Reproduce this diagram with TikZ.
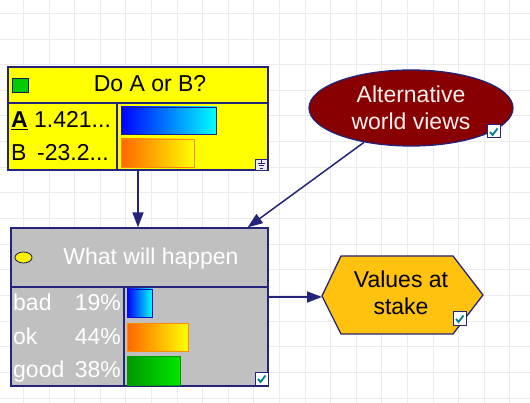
\documentclass[tikz,border=0pt]{standalone}
\usepackage{fontspec}
\setmainfont{Liberation Sans}
\usetikzlibrary{arrows.meta,shapes.geometric}
\definecolor{navy}{HTML}{24247A}
\definecolor{decyellow}{HTML}{FFFF00}
\definecolor{chgray}{HTML}{C0C0C0}
\definecolor{darkred}{HTML}{880000}
\definecolor{hexgold}{HTML}{FFC20E}
\definecolor{gridc}{HTML}{ECECF0}
\definecolor{chkteal}{HTML}{00808A}
\tikzset{
  gridline/.style={draw=gridc, line width=0.8pt},
  box/.style={draw=navy, line width=1.3pt, inner sep=0pt},
  boxline/.style={draw=navy, line width=1.3pt},
  txt/.style={inner sep=0pt, font=\fontsize{23}{27.5}\selectfont},
  wtxt/.style={txt, text=white},
  arr/.style={draw=navy, line width=1.5pt, -{Triangle[length=15pt,width=11pt]}},
  barblue/.style={draw=navy!80!blue, line width=0.8pt, left color=blue, right color=cyan},
  barorange/.style={draw=orange!90!yellow, line width=0.8pt, left color=orange!80!red, right color=yellow},
  bargreen/.style={draw=green!60!black, line width=0.8pt, left color=green!60!black, right color=green!90!black},
  chk/.pic={
    \draw[navy, fill=white, line width=1pt] (0,0) rectangle (13,13);
    \draw[chkteal, line width=1.8pt] (3,7) -- (5.5,10) -- (10.5,3.5);
  }
}
\begin{document}
\begin{tikzpicture}[x=1pt,y=-1pt]
\useasboundingbox[fill=white] (0,0) rectangle (530,403);
% grid
\foreach \i in {0,...,19} \draw[gridline] ({23.3+25.6*\i},0) -- ({23.3+25.6*\i},403);
\foreach \j in {0,...,15} \draw[gridline] (0,{13.3+25.65*\j}) -- (530,{13.3+25.65*\j});

% decision node
\node[box, fill=decyellow, minimum width=260pt, minimum height=103pt] (dec) at (138,118.5) {};
\draw[boxline] (8,103) -- (268,103);
\draw[boxline] (117,103) -- (117,170);
\draw[draw=navy!70!black, fill=green!80!black, line width=0.8pt] (12,78) rectangle (28,92);
\node[txt, anchor=base] (dect) at (150,92) {Do A or B?};
\node[txt, anchor=base west] (ra) at (11,128) {\underline{\textbf{A}}};
\node[txt, anchor=base west] (rav) at (34,128) {1.421...};
\node[txt, anchor=base west] (rb) at (11,161) {B};
\node[txt, anchor=base west] (rbv) at (37,161) {-23.2...};
\draw[barblue] (121,107) rectangle (216,134);
\draw[barorange] (121,139) rectangle (194,167);
\draw[draw=navy, fill=gray!15, line width=0.8pt] (255,159) rectangle (267,170);
\draw[navy, line width=0.6pt] (261,160.5) -- (261,163.5) (257.5,163.5) -- (264.5,163.5) (258.5,165.8) -- (263.5,165.8) (259.5,168) -- (262.5,168);

% chance node
\node[box, fill=chgray, minimum width=257pt, minimum height=158pt] (chance) at (139.5,307) {};
\draw[boxline] (11,287) -- (268,287);
\draw[boxline] (124,287) -- (124,386);
\draw[draw=navy!70!black, fill=yellow, line width=0.8pt] (23.5,257.5) ellipse [x radius=8.5pt, y radius=5.5pt];
\node[wtxt, anchor=base] (cht) at (151,265) {What will happen};
\node[wtxt, anchor=base west] (l1) at (13,311) {bad};
\node[wtxt, anchor=base west] (l2) at (13,344) {ok};
\node[wtxt, anchor=base west] (l3) at (13,377) {good};
\node[wtxt, anchor=base east] (p1) at (121,311) {19\%};
\node[wtxt, anchor=base east] (p2) at (121,344) {44\%};
\node[wtxt, anchor=base east] (p3) at (121,377) {38\%};
\draw[barblue, draw=blue!70!navy] (127,289) rectangle (152,317);
\draw[barorange] (127,323) rectangle (188,351);
\draw[bargreen] (127,356) rectangle (180,385);
\pic at (255,372) {chk};

% objective node
\node[ellipse, draw=navy, line width=1.3pt, fill=darkred, minimum width=204pt, minimum height=76pt, inner sep=0pt, align=center, text=white!94!red, font=\fontsize{23}{27.5}\selectfont] (alt) at (411,108) {Alternative\\world views};
\pic at (487,125) {chk};

% value node
\draw[draw=navy, line width=1.3pt, fill=hexgold] (322,296) -- (341,256) -- (453,256) -- (483,295) -- (453,334) -- (341,334) -- cycle;
\node[txt, align=center] (vals) at (401,293) {Values at\\stake};
\pic at (453,312) {chk};
\coordinate (vin) at (322,297);

% connectors
\draw[arr] (dec.south) -- (dec.south |- chance.north);
\draw[arr] (alt) -- ([xshift=-21pt]chance.north east);
\draw[arr] (chance.east |- vin) -- (vin);
\end{tikzpicture}
\end{document}
